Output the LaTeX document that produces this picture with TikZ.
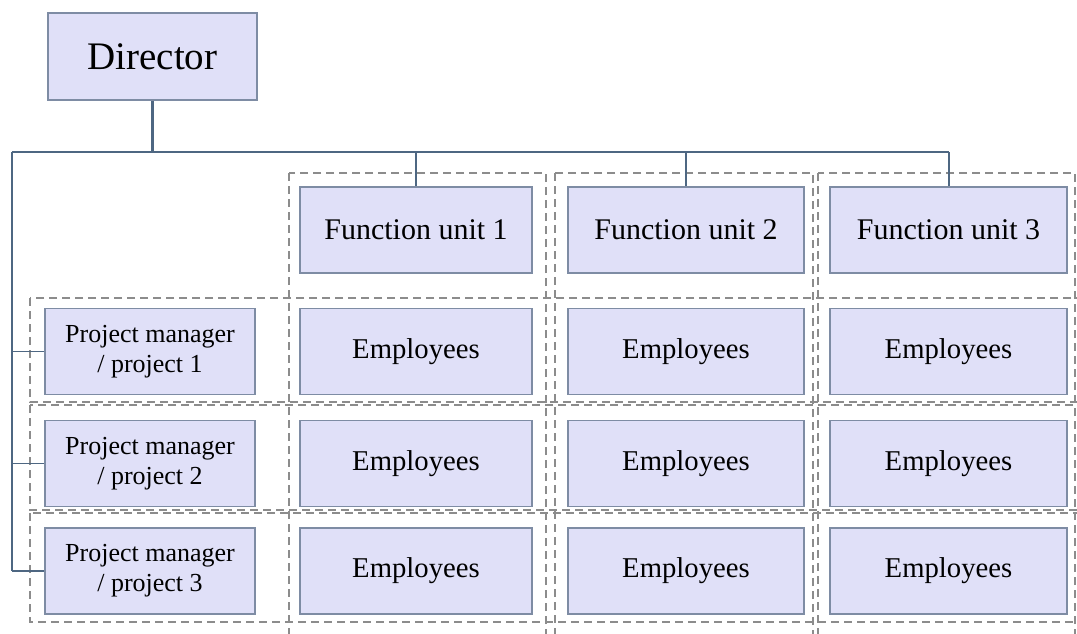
\documentclass[tikz,border=0pt]{standalone}
\usepackage{fontspec}
\setmainfont{Liberation Serif}
\begin{document}
\begin{tikzpicture}[x=1pt,y=-1pt,
  box/.style={draw=boxline,fill=boxfill,line width=1.6pt,inner sep=0pt,align=center,font=\fontsize{28.7}{30}\selectfont},
  fubox/.style={box,minimum height=86pt,font=\fontsize{30}{32}\selectfont},
  pmbox/.style={box,minimum width=210pt,minimum height=86pt,font=\fontsize{26}{30}\selectfont},
  empbox/.style={box,minimum height=86pt},
  conn/.style={draw=connline,line width=2pt},
  thinconn/.style={draw=connline,line width=1.3pt},
  grp/.style={draw=dashgray,line width=1.6pt,dash pattern=on 8pt off 5pt}]
\definecolor{boxfill}{HTML}{E0E0F8}
\definecolor{boxline}{HTML}{7E8CA4}
\definecolor{connline}{HTML}{4E6782}
\definecolor{dashgray}{HTML}{8C8C8C}
\useasboundingbox (0,0) rectangle (1077,633);
\clip (0,0) rectangle (1077,633);
% dashed grouping boxes
\draw[grp] (289,173) rectangle (546,660);
\draw[grp] (555,173) rectangle (813,660);
\draw[grp] (818,173) rectangle (1075,660);
\draw[grp] (30,298) rectangle (1090,402);
\draw[grp] (30,405) rectangle (1090,510);
\draw[grp] (30,513) rectangle (1090,622);
% nodes
\node[box,minimum width=209pt,minimum height=87pt,font=\fontsize{39}{42}\selectfont] (dir) at (152.5,56.5) {Director};
\node[fubox,minimum width=232pt] (fu1) at (416,230) {Function unit 1};
\node[fubox,minimum width=236pt] (fu2) at (686,230) {Function unit 2};
\node[fubox,minimum width=237pt] (fu3) at (948.5,230) {Function unit 3};
\node[pmbox] (pm1) at (150,351.5) {Project manager\\/ project 1};
\node[pmbox] (pm2) at (150,463.5) {Project manager\\/ project 2};
\node[pmbox] (pm3) at (150,571) {Project manager\\/ project 3};
\foreach \r/\y in {1/351.5,2/463.5,3/571}{
  \node[empbox,minimum width=232pt] (e1\r) at (416,\y) {Employees};
  \node[empbox,minimum width=236pt] (e2\r) at (686,\y) {Employees};
  \node[empbox,minimum width=237pt] (e3\r) at (948.5,\y) {Employees};
}
% connectors
\coordinate (busL) at (12,152);
\coordinate (busR) at (948.5,152);
\draw[conn] (busL) -- (busR);
\draw[conn,line width=2.4pt] (dir.south) -- (dir.south |- busL);
\draw[thinconn] (fu1.north) -- (fu1.north |- busL);
\draw[thinconn] (fu2.north) -- (fu2.north |- busL);
\draw[conn] (fu3.north) -- (busR);
\draw[conn] (busL) -- (busL |- pm3.west);
\draw[thinconn] (pm1.west) -- (busL |- pm1.west);
\draw[thinconn] (pm2.west) -- (busL |- pm2.west);
\draw[thinconn] (pm3.west) -- (busL |- pm3.west);
\end{tikzpicture}
\end{document}
